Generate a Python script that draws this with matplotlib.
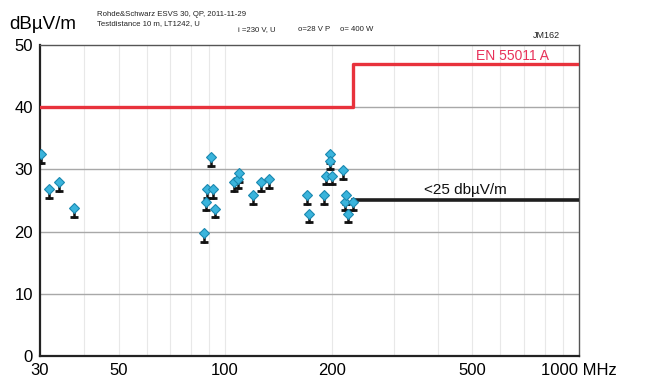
import matplotlib
matplotlib.use('Agg')
import matplotlib.pyplot as plt
from matplotlib.ticker import FixedLocator, NullFormatter

# measured peaks (QP), MHz and dBuV/m
freq = [30.2, 31.8, 34.0, 37.4,
        87.4, 88.3, 88.7, 91.1, 92.3, 93.7,
        106.3, 108.6, 109.8, 120.1, 126.7, 133.1,
        170.1, 172.7, 189.8, 193.0, 197.9, 198.5, 201.0,
        214.7, 218.5, 219.9, 222.2, 230.0]
level = [32.4, 26.8, 27.9, 23.8,
         19.8, 24.8, 26.8, 32.0, 26.8, 23.7,
         27.9, 28.4, 29.4, 25.9, 27.9, 28.4,
         25.9, 22.9, 25.9, 29.0, 32.4, 31.4, 29.0,
         29.9, 24.8, 25.9, 22.9, 24.8]

# EN 55011 class A limit
limit_f = [30, 230, 230, 1000]
limit_v = [40, 40, 47, 47]

# measured maximum above 230 MHz
max_f = [230, 1000]
max_v = [25, 25]

xticks = [30, 50, 100, 200, 500, 1000]
xticklabels = ['30', '50', '100', '200', '500', '1000 MHz']
xgrid = [40, 50, 60, 70, 80, 90, 100, 200, 300, 400, 500, 600, 700, 800, 900]
yticks = [0, 10, 20, 30, 40, 50]

plt.rcParams['font.family'] = ['Liberation Sans', 'DejaVu Sans']

fig = plt.figure(figsize=(6.45, 3.8), dpi=100)
ax = fig.add_axes([0.062, 0.0632, 0.8357, 0.8184])
ax.set_xscale('log')
ax.set_xlim(30, 1000)
ax.set_ylim(0, 50)

for g in xgrid:
    ax.axvline(g, color='#e8e8e8', lw=0.8, zorder=0)
for g in yticks[1:-1]:
    ax.axhline(g, color='#a8a8a8', lw=1.0, zorder=0)

ax.xaxis.set_major_locator(FixedLocator(xticks))
ax.xaxis.set_minor_locator(FixedLocator([]))
ax.xaxis.set_minor_formatter(NullFormatter())
ax.set_xticks(xticks)
ax.set_xticklabels(xticklabels)
ax.set_yticks(yticks)
ax.tick_params(length=0, labelsize=12, pad=5)

ax.plot(limit_f, limit_v, color='#e8323c', lw=2.4, zorder=3)
ax.plot(max_f, max_v, color='#1e1e1e', lw=2.6, zorder=3)

# stems below each marker
for f, v in zip(freq, level):
    ax.plot([f, f], [v - 1.4, v], color='#111111', lw=1.8, zorder=4)
    ax.plot([f], [v - 1.4], marker='_', ms=6, mew=2, color='#111111', zorder=4)
ax.plot(freq, level, linestyle='none', marker='D', ms=5,
        mfc='#3ab4dc', mec='#1a88b0', mew=0.8, zorder=5)

ax.text(647, 48.2, 'EN 55011 A', color='#e8325a', fontsize=10, ha='center', va='center')
ax.text(476, 26.7, '<25 dbµV/m', color='#111111', fontsize=11, ha='center', va='center')

for s in ['left', 'bottom']:
    ax.spines[s].set_linewidth(1.6)
    ax.spines[s].set_color('#222222')
for s in ['top', 'right']:
    ax.spines[s].set_linewidth(1.0)
    ax.spines[s].set_color('#555555')

fig.text(0.015, 0.935, 'dBµV/m', fontsize=13.5, ha='left', va='center')
small = dict(fontsize=5.6, family=['Liberation Sans Narrow', 'Liberation Sans'], color='#222222')
fig.text(0.150, 0.962, 'Rohde&Schwarz ESVS 30, QP, 2011-11-29', ha='left', va='center', **small)
fig.text(0.150, 0.938, 'Testdistance 10 m, LT1242, U', ha='left', va='center', **small)
fig.text(0.369, 0.923, 'i =230 V, U', ha='left', va='center', **small)
fig.text(0.462, 0.923, 'o=28 V P', ha='left', va='center', **small)
fig.text(0.527, 0.923, 'o= 400 W', ha='left', va='center', **small)
fig.text(0.826, 0.907, 'JM162', fontsize=6.5, ha='left', va='center', color='#222222')

fig.savefig('out.png', dpi=100)
